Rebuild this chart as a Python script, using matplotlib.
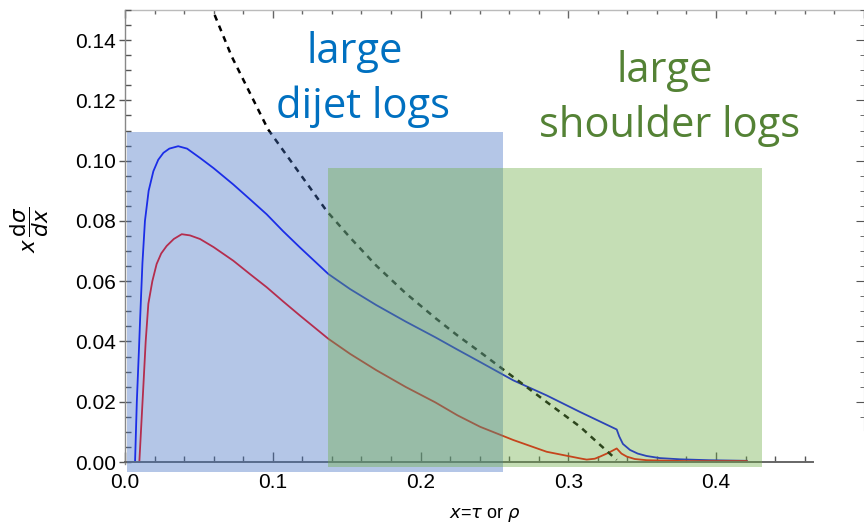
import matplotlib
matplotlib.use("Agg")
import matplotlib.pyplot as plt
from matplotlib.patches import Rectangle
from matplotlib.ticker import MultipleLocator, FixedLocator, FormatStrFormatter

# ---- data ----
blue_x = [0.0068, 0.0080, 0.0095, 0.0102, 0.0118, 0.0135, 0.0160, 0.0192, 0.0225, 0.026,
          0.030, 0.036, 0.042, 0.0508, 0.060, 0.0733, 0.085, 0.0959, 0.107, 0.1184,
          0.1376, 0.1523, 0.17, 0.19, 0.21, 0.225, 0.2403, 0.2628, 0.2854, 0.308,
          0.3328, 0.3345, 0.3370, 0.3418, 0.347, 0.353, 0.362, 0.3756, 0.395, 0.4208]
blue_y = [0.0, 0.020, 0.038, 0.047, 0.066, 0.080, 0.090, 0.0965, 0.1003, 0.1026,
          0.1040, 0.1048, 0.1040, 0.1009, 0.0975, 0.0921, 0.0870, 0.0822, 0.0766, 0.0712,
          0.0624, 0.0574, 0.0521, 0.0466, 0.0414, 0.0373, 0.0332, 0.0271, 0.0221, 0.0166,
          0.0108, 0.0085, 0.0060, 0.0040, 0.0028, 0.0020, 0.0013, 0.0009, 0.0006, 0.0004]

red_x = [0.0097, 0.0110, 0.0124, 0.0140, 0.0158, 0.0185, 0.0214, 0.0245, 0.0282, 0.033,
         0.0384, 0.044, 0.0508, 0.060, 0.0733, 0.085, 0.0959, 0.107, 0.1184, 0.1376,
         0.1523, 0.17, 0.19, 0.21, 0.225, 0.2403, 0.2628, 0.2854, 0.3080, 0.3125,
         0.318, 0.3215, 0.327, 0.3328, 0.3360, 0.3396, 0.345, 0.353, 0.38, 0.4208]
red_y = [0.0, 0.012, 0.0249, 0.040, 0.0525, 0.060, 0.0657, 0.0692, 0.0717, 0.0740,
         0.0756, 0.0752, 0.0740, 0.0713, 0.0668, 0.0622, 0.0580, 0.0533, 0.0486, 0.0409,
         0.0359, 0.0305, 0.0249, 0.0198, 0.0155, 0.0117, 0.0073, 0.0034, 0.0012, 0.0008,
         0.0011, 0.0018, 0.0030, 0.0045, 0.0028, 0.0018, 0.0010, 0.0006, 0.0003, 0.0003]

dash_x = [0.0585, 0.0598, 0.0722, 0.0968, 0.1365, 0.1523, 0.17, 0.19, 0.21, 0.225,
          0.2403, 0.2628, 0.2854, 0.3080, 0.3328]
dash_y = [0.152, 0.1494, 0.1346, 0.1104, 0.0833, 0.0745, 0.0652, 0.0560, 0.0478, 0.0420,
          0.0365, 0.0282, 0.0199, 0.0117, 0.0007]

# shaded regions: (x0, x1, y0, y1)
dijet_region = (0.0014, 0.2558, -0.0033, 0.1095)
shoulder_region = (0.1376, 0.4309, -0.0016, 0.0976)

x_ticks_major = [0.0, 0.1, 0.2, 0.3, 0.4]
x_ticks_minor = [0.02, 0.04, 0.06, 0.08, 0.12, 0.14, 0.16, 0.18, 0.22, 0.24, 0.26, 0.28,
                 0.32, 0.34, 0.36, 0.38, 0.42, 0.44, 0.46]

W, H = 864, 526
fig = plt.figure(figsize=(W / 100, H / 100), dpi=100)
plt.rcParams['font.family'] = ['Liberation Sans', 'DejaVu Sans']
plt.rcParams['mathtext.fontset'] = 'dejavusans'

def fx(px):
    return px / W

def fy(py):
    return 1 - py / H

left_px, right_px, top_px, bot_px = 125, 863.75, 10, 464
ax = fig.add_axes([fx(left_px), fy(bot_px), fx(right_px - left_px), (bot_px - top_px) / H])
ax.set_xlim(0, 0.5)

ax.plot(blue_x, blue_y, color='#0000ff', lw=1.3, zorder=2, clip_on=False,
        solid_joinstyle='round')
ax.plot(red_x, red_y, color='#ff0000', lw=1.3, zorder=2, clip_on=False,
        solid_joinstyle='round')
ax.plot(dash_x, dash_y, color='black', lw=1.8, ls=(0, (2.4, 2.2)), zorder=2)

for (x0, x1, y0, y1), c in [(dijet_region, '#4472C4'), (shoulder_region, '#70AD47')]:
    ax.add_patch(Rectangle((x0, y0), x1 - x0, y1 - y0, facecolor=c, alpha=0.4,
                           edgecolor='none', zorder=5, clip_on=False))

# spines
ax.spines['top'].set_visible(False)
ax.spines['right'].set_visible(False)
ax.spines['bottom'].set_position(('data', 0))
ax.spines['bottom'].set_bounds(0, 0.4657)
ax.spines['bottom'].set_color('#666666')
ax.spines['bottom'].set_linewidth(1.4)
ax.spines['left'].set_color('#888888')
ax.spines['left'].set_linewidth(1.0)

ax.xaxis.set_major_locator(FixedLocator(x_ticks_major))
ax.xaxis.set_minor_locator(FixedLocator(x_ticks_minor))
ax.xaxis.set_major_formatter(FormatStrFormatter('%.1f'))
ax.yaxis.set_major_locator(MultipleLocator(0.02))
ax.yaxis.set_minor_locator(MultipleLocator(0.005))
ax.yaxis.set_major_formatter(FormatStrFormatter('%.2f'))
ax.set_ylim(-0.00066, 0.15)

ax.tick_params(axis='x', which='major', direction='in', length=7, width=1, color='#555555',
               labelsize=15, pad=8)
ax.tick_params(axis='x', which='minor', direction='in', length=4, width=1, color='#555555')
ax.tick_params(axis='y', which='major', direction='inout', length=9, width=1, color='#555555',
               labelsize=15, pad=2)
ax.tick_params(axis='y', which='minor', direction='in', length=4, width=1, color='#555555')

# top frame with its own ticks
sec = ax.secondary_xaxis('top')
sec.xaxis.set_major_locator(MultipleLocator(0.1))
sec.xaxis.set_minor_locator(MultipleLocator(0.02))
sec.tick_params(which='major', direction='in', length=6, width=1, color='#666666', labeltop=False)
sec.tick_params(which='minor', direction='in', length=3, width=1, color='#666666')
sec.spines['top'].set_color('#bbbbbb')
sec.spines['top'].set_linewidth(1.0)

# partial right frame edge
ax2 = fig.add_axes([fx(right_px) - 0.01, fy(430), 0.01, (430 - top_px) / H])
ax2.set_ylim((462 - 430) / 3013.0, 0.15)
ax2.patch.set_visible(False)
for s in ['left', 'top', 'bottom']:
    ax2.spines[s].set_visible(False)
ax2.spines['right'].set_color('#999999')
ax2.set_xticks([])
ax2.yaxis.tick_right()
ax2.yaxis.set_major_locator(MultipleLocator(0.02))
ax2.yaxis.set_minor_locator(MultipleLocator(0.005))
ax2.tick_params(axis='y', which='major', direction='in', length=6, color='#555555', labelright=False)
ax2.tick_params(axis='y', which='minor', direction='in', length=3, color='#555555')

# axis labels
fig.text(fx(30), fy(230), r'$x\,\dfrac{\mathrm{d}\sigma}{dx}$', rotation=90, fontsize=15.5,
         ha='center', va='center')
fig.text(fx(485), fy(515), r'$x$=$\tau$ or $\rho$', fontsize=13, ha='center', va='center')

# annotations
ann_font = ['Open Sans', 'DejaVu Sans']
blue_txt = '#0070C0'
green_txt = '#548235'
fig.text(fx(355), fy(63), 'large', color=blue_txt, fontsize=30, family=ann_font,
         ha='center', va='baseline', zorder=10)
fig.text(fx(363), fy(118), 'dijet logs', color=blue_txt, fontsize=30, family=ann_font,
         ha='center', va='baseline', zorder=10)
fig.text(fx(665), fy(82), 'large', color=green_txt, fontsize=30, family=ann_font,
         ha='center', va='baseline', zorder=10)
fig.text(fx(670), fy(137), 'shoulder logs', color=green_txt, fontsize=30, family=ann_font,
         ha='center', va='baseline', zorder=10)

fig.savefig('out.png', dpi=100)
